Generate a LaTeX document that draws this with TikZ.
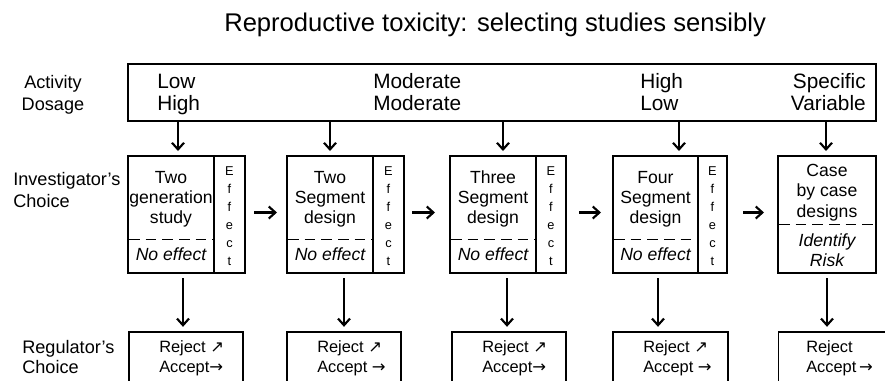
\documentclass[tikz,border=0pt]{standalone}
\usepackage{fontspec}
\setmainfont{Liberation Sans}
\newfontfamily\arrowfont{DejaVu Sans}
\usetikzlibrary{arrows.meta}
\begin{document}
\begin{tikzpicture}[x=0.75pt,y=-0.75pt,
  mbox/.style={draw, line width=1.5pt, rectangle, inner sep=0, minimum height=87.75pt},
  tbox/.style={draw, line width=1.5pt, rectangle, inner sep=0},
  rbox/.style={draw, line width=0.8pt, rectangle, inner sep=0, minimum height=51pt},
  arr/.style={line width=1.6pt, -{Straight Barb[length=5pt,width=9pt]}},
  divline/.style={line width=0.9pt},
  dashline/.style={line width=0.7pt, dash pattern=on 8pt off 4.5pt},
  titletxt/.style={font=\fontsize{19.2}{22}\selectfont, anchor=base west, inner sep=0},
  toptxt/.style={font=\fontsize{15.6}{18}\selectfont, inner sep=0},
  sidetxt/.style={font=\fontsize{13.6}{16}\selectfont, inner sep=0},
  midtxt/.style={font=\fontsize{13.2}{15}\selectfont, anchor=base, inner sep=0},
  efftxt/.style={font=\fontsize{9.6}{10}\selectfont, anchor=base, inner sep=0},
  regtxt/.style={font=\fontsize{12.3}{14}\selectfont, anchor=base west, inner sep=0}
]
\useasboundingbox (0,0) rectangle (885,380);
\clip (0,0) rectangle (885,380);

% title
\node[titletxt] (title) at (224,31) {Reproductive toxicity: selecting studies sensibly};

% side labels
\node[sidetxt, anchor=base] (act) at (53,88) {Activity};
\node[sidetxt, anchor=base] (dos) at (53,110) {Dosage};
\node[sidetxt, anchor=base west] (inv1) at (13,185) {Investigator’s};
\node[sidetxt, anchor=base west] (inv2) at (13,207) {Choice};
\node[sidetxt, anchor=base west] (reg1) at (22,353) {Regulator’s};
\node[sidetxt, anchor=base west] (reg2) at (22,373) {Choice};

% top box
\node[tbox, minimum width=561pt, minimum height=42.75pt] (top) at (502,92.5) {};
\node[toptxt, anchor=base west] (l1a) at (157,88) {Low};
\node[toptxt, anchor=base west] (l1b) at (157,110) {High};
\node[toptxt, anchor=base west] (l2a) at (373,88) {Moderate};
\node[toptxt, anchor=base west] (l2b) at (373,110) {Moderate};
\node[toptxt, anchor=base west] (l3a) at (640,88) {High};
\node[toptxt, anchor=base west] (l3b) at (640,110) {Low};
\node[toptxt, anchor=base east] (l4a) at (866,88) {Specific};
\node[toptxt, anchor=base east] (l4b) at (866,110) {Variable};

% middle boxes
\node[mbox, minimum width=87.75pt] (b1) at (186.5,214.5) {};
\node[mbox, minimum width=87.75pt] (b2) at (345.5,214.5) {};
\node[mbox, minimum width=87pt] (b3) at (508,214.5) {};
\node[mbox, minimum width=85.5pt] (b4) at (670,214.5) {};
\node[mbox, minimum width=73.5pt] (b5) at (827,214.5) {};

% dividers and dashed lines
\draw[divline] (214,156) -- (214,273);
\draw[divline] (373,156) -- (373,273);
\draw[divline] (536,156) -- (536,273);
\draw[divline] (698,156) -- (698,273);
\draw[dashline] (129,239) -- (214,239);
\draw[dashline] (288,239) -- (373,239);
\draw[dashline] (451,239) -- (536,239);
\draw[dashline] (614,239) -- (698,239);
\draw[dashline] (779,224) -- (876,224);

% middle texts
\node[midtxt] (t1a) at (171,183) {Two};
\node[midtxt] (t1b) at (171,203) {generation};
\node[midtxt] (t1c) at (171,223) {study};
\node[midtxt] (n1) at (171,260) {\itshape No effect};
\node[midtxt] (t2a) at (330,183) {Two};
\node[midtxt] (t2b) at (330,203) {Segment};
\node[midtxt] (t2c) at (330,223) {design};
\node[midtxt] (n2) at (330,260) {\itshape No effect};
\node[midtxt] (t3a) at (493,183) {Three};
\node[midtxt] (t3b) at (493,203) {Segment};
\node[midtxt] (t3c) at (493,223) {design};
\node[midtxt] (n3) at (493,260) {\itshape No effect};
\node[midtxt] (t4a) at (655.5,183) {Four};
\node[midtxt] (t4b) at (655.5,203) {Segment};
\node[midtxt] (t4c) at (655.5,223) {design};
\node[midtxt] (n4) at (655.5,260) {\itshape No effect};
\node[midtxt] (t5a) at (827,176) {Case};
\node[midtxt] (t5b) at (827,196.5) {by case};
\node[midtxt] (t5c) at (827,217) {designs};
\node[midtxt] (t5d) at (827,246) {\itshape Identify};
\node[midtxt] (t5e) at (827,266) {\itshape Risk};

% Effect letters
\foreach \ex/\nm in {229.5/e1,388.5/e2,551/e3,712.5/e4}{
  \foreach \ch [count=\i] in {E,f,f,e,c,t}{
    \node[efftxt] (\nm\i) at (\ex,{157+18*\i}) {\ch};
  }
}

% regulator boxes
\node[rbox, minimum width=85.5pt] (r1) at (186,366) {};
\node[rbox, minimum width=85.5pt] (r2) at (344,366) {};
\node[rbox, minimum width=85.5pt] (r3) at (509,366) {};
\node[rbox, minimum width=86.25pt] (r4) at (670.5,366) {};
\node[rbox, minimum width=100pt] (r5) at (845,366) {};

\node[regtxt] (q1a) at (159,352) {Reject {\arrowfont ↗}};
\node[regtxt] (q1b) at (159,372) {Accept{\arrowfont →}};
\node[regtxt] (q2a) at (317,352) {Reject {\arrowfont ↗}};
\node[regtxt] (q2b) at (317,372) {Accept {\arrowfont →}};
\node[regtxt] (q3a) at (482,352) {Reject {\arrowfont ↗}};
\node[regtxt] (q3b) at (482,372) {Accept{\arrowfont →}};
\node[regtxt] (q4a) at (643,352) {Reject {\arrowfont ↗}};
\node[regtxt] (q4b) at (643,372) {Accept {\arrowfont →}};
\node[regtxt] (q5a) at (806,352) {Reject};
\node[regtxt] (q5b) at (806,372) {Accept\,{\arrowfont →}};

% arrow x positions
\coordinate (a1) at (178,0);
\coordinate (a2) at (330,0);
\coordinate (a3) at (503,0);
\coordinate (a4) at (679,0);
\coordinate (a5) at (826,0);
\coordinate (c1) at (183,0);
\coordinate (c2) at (344,0);
\coordinate (c3) at (507,0);
\coordinate (c4) at (658,0);
\coordinate (c5) at (827,0);

% top arrows
\foreach \i in {1,...,5}{
  \draw[arr, shorten >=3pt] (top.south -| a\i) -- (b\i.north -| a\i);
}
% bottom arrows
\foreach \i in {1,...,5}{
  \draw[arr, shorten <=3pt, shorten >=3.5pt] (b\i.south -| c\i) -- (r\i.north -| c\i);
}
% horizontal arrows
\draw[arr, shorten <=6pt, shorten >=6.75pt] ([yshift=1.5pt]b1.east) -- ([yshift=1.5pt]b2.west);
\draw[arr, shorten <=5.25pt, shorten >=10.5pt] ([yshift=1.5pt]b2.east) -- ([yshift=1.5pt]b3.west);
\draw[arr, shorten <=9pt, shorten >=8.25pt] ([yshift=1.5pt]b3.east) -- ([yshift=1.5pt]b4.west);
\draw[arr, shorten <=11.25pt, shorten >=9.75pt] ([yshift=1.5pt]b4.east) -- ([yshift=1.5pt]b5.west);
\end{tikzpicture}
\end{document}
